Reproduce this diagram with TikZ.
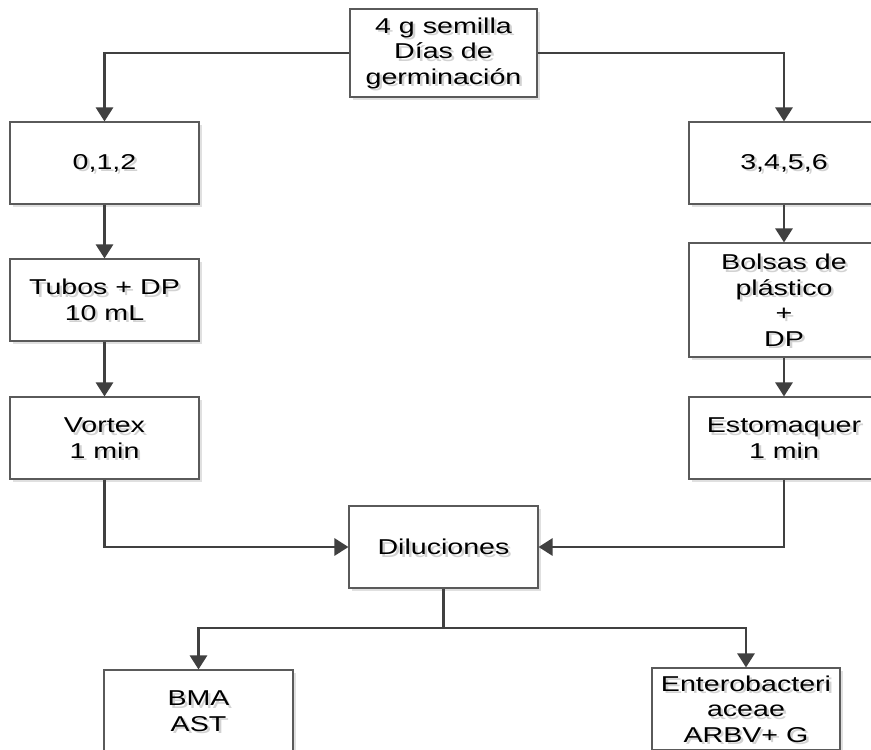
\documentclass[tikz,border=0pt]{standalone}
\usepackage{fontspec}
\setmainfont{Liberation Sans}[FakeStretch=1.33]
\usetikzlibrary{arrows.meta,shadows}
\definecolor{linegray}{HTML}{404040}
\definecolor{boxgray}{HTML}{5A5A5A}
\definecolor{ghostgray}{HTML}{D2D2D2}
\tikzset{
  stepbox/.style={draw=boxgray, line width=1.1pt, fill=white, rectangle,
    inner sep=0pt, minimum width=189pt, minimum height=82pt,
    drop shadow={shadow xshift=2.5pt, shadow yshift=-2.5pt, opacity=0.12, fill=black}},
  boxtext/.style={align=center, inner sep=0pt,
    font=\fontsize{21.5}{25.5}\selectfont},
  ghosttext/.style={boxtext, text=ghostgray, xshift=2.5pt, yshift=-2.5pt},
  flow/.style={draw=linegray, line width=2.8pt,
    -{Triangle[width=17pt,length=14pt]}},
}
% box with its label and a soft shadow under the label
\newcommand\flowbox[4]{%
  \node[stepbox,#1] (#2) at (#3) {};
  \node[ghosttext] at (#2.center) {#4};
  \node[boxtext] at (#2.center) {#4};
}
\begin{document}
\begin{tikzpicture}[x=1pt,y=-1pt]
\useasboundingbox (0,0) rectangle (871,750);
\clip (0,0) rectangle (871,750);
\fill[white] (0,0) rectangle (871,750);

% boxes
\flowbox{minimum width=187pt, minimum height=88pt}{seed}{443.5,53}
  {4 g semilla\\Días de\\germinación}
\flowbox{}{early}{104.5,163}{0,1,2}
\flowbox{minimum width=190pt}{late}{784,163}{3,4,5,6}
\flowbox{}{tubes}{104.5,300}{Tubos + DP\\10 mL}
\flowbox{minimum width=190pt, minimum height=114pt}{bags}{784,300}
  {Bolsas de\\plástico\\+\\DP}
\flowbox{}{vortex}{104.5,438}{Vortex\\1 min}
\flowbox{minimum width=190pt}{stomacher}{784,438}{Estomaquer\\1 min}
\flowbox{}{dil}{443.5,547}{Diluciones}
\flowbox{}{bma}{198.5,711}{BMA\\AST}
\flowbox{minimum width=188pt}{entero}{746,709}{Enterobacteri\\aceae\\ARBV+ G}

% connectors
\draw[flow] (seed.west) -| (early.north);
\draw[flow] (seed.east) -| (late.north);
\draw[flow] (early) -- (tubes);
\draw[flow] (tubes) -- (vortex);
\draw[flow] (late) -- (bags);
\draw[flow] (bags) -- (stomacher);
\draw[flow] (vortex.south) |- (dil.west);
\draw[flow] (stomacher.south) |- (dil.east);
\coordinate (split) at (443.5,628);
\draw[draw=linegray, line width=2.8pt] (dil.south) -- (split);
\draw[flow] (split) -| (bma.north);
\draw[flow] (split) -| (entero.north);
\end{tikzpicture}
\end{document}
